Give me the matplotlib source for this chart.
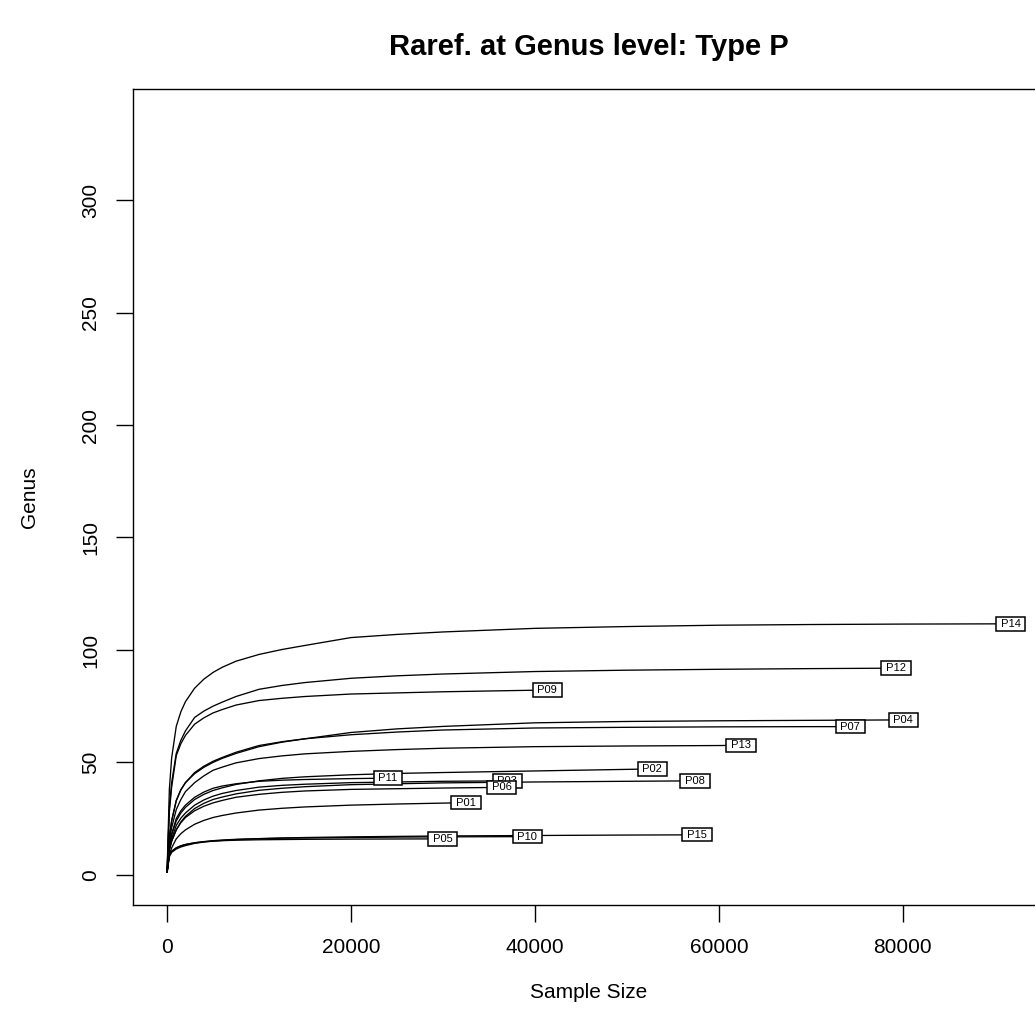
import matplotlib
matplotlib.use("Agg")
import matplotlib.pyplot as plt

plt.rcParams['font.family'] = ['Liberation Sans', 'DejaVu Sans']

# ---- data ----
title = "Raref. at Genus level: Type P"
x_label = "Sample Size"
y_label = "Genus"
x_ticks = [0, 20000, 40000, 60000, 80000]
y_ticks = [0, 50, 100, 150, 200, 250, 300]

# common sample-size grid; each curve lists richness at grid points below its end
grid_n = [1, 250, 500, 1000, 1500, 2000, 3000, 4000, 5000, 6000, 7500, 10000,
          12500, 15000, 20000, 25000, 30000, 40000, 50000, 60000, 70000, 80000, 90000]

samples = ["P01", "P02", "P03", "P04", "P05", "P06", "P07", "P08",
           "P09", "P10", "P11", "P12", "P13", "P14", "P15"]
end_n = [32500, 52780, 36990, 80070, 29960, 36370, 74300, 57420,
         41340, 39160, 24020, 79240, 62420, 91740, 57610]
end_s = [32.1, 47.1, 41.8, 68.9, 16.0, 38.9, 65.9, 41.8,
         82.2, 17.0, 43.0, 91.9, 57.6, 111.6, 17.8]

P01 = [1, 9, 12, 16, 18.3, 20, 22.5, 24.2, 25.5, 26.4, 27.5, 28.8, 29.6, 30.2, 31, 31.5, 31.9]
P02 = [1, 13, 18, 24, 27.5, 30, 33.5, 35.8, 37.5, 38.7, 40.2, 41.8, 42.9, 43.6, 44.5, 45.1,
       45.5, 46.2, 46.9]
P03 = [1, 12, 16, 22, 25.2, 27.5, 31, 33.3, 35, 36.2, 37.5, 39, 39.8, 40.3, 41, 41.3, 41.6]
P04 = [1, 17, 24, 33, 37.8, 41, 45, 47.8, 50, 51.8, 54, 57, 59, 60.5, 63.3, 64.9, 66, 67.6,
       68.2, 68.5, 68.7, 68.9]
P05 = [1, 9, 10.5, 12, 12.9, 13.5, 14.2, 14.7, 15, 15.2, 15.4, 15.6, 15.7, 15.8, 15.9, 15.95]
P06 = [1, 11, 15, 20, 23.2, 25.5, 28.5, 30.5, 32, 33.1, 34.5, 35.8, 36.7, 37.3, 38, 38.3, 38.6]
P07 = [1, 17, 24, 33, 37.8, 41, 45.5, 48.3, 50.5, 52.2, 54.5, 57.5, 59.2, 60.5, 62.3, 63.5,
       64.4, 65.3, 65.6, 65.8, 65.9]
P08 = [1, 11, 15, 20, 23.5, 26, 29.5, 31.8, 33.5, 34.6, 36, 37.6, 38.5, 39.2, 40.1, 40.5,
       40.9, 41.3, 41.6]
P09 = [1, 28, 39, 53, 58.3, 62, 67, 69.8, 72, 73.5, 75.5, 77.5, 78.5, 79.3, 80.4, 80.9,
       81.4, 82.1]
P10 = [1, 9, 10.5, 12, 12.9, 13.5, 14.3, 14.8, 15.2, 15.5, 15.8, 16.1, 16.3, 16.4, 16.6,
       16.8, 16.9]
P11 = [1, 13, 18, 25, 28.5, 31, 34.5, 36.8, 38.5, 39.5, 40.5, 41.6, 42.1, 42.4, 42.8]
P12 = [1, 30, 41, 54, 59.8, 64, 70, 72.8, 75, 76.8, 79.3, 82.5, 84.2, 85.5, 87.4, 88.5,
       89.3, 90.4, 91, 91.4, 91.7]
P13 = [1, 15, 21, 29, 33.5, 37, 41, 44, 46.5, 47.9, 49.8, 51.7, 52.9, 53.8, 54.9, 55.7,
       56.3, 57, 57.3, 57.5]
P14 = [1, 38, 52, 66, 72.5, 77, 83, 87, 90, 92.3, 95, 98, 100.2, 102, 105.5, 106.9, 108,
       109.6, 110.4, 111, 111.3, 111.5, 111.6]
P15 = [1, 8, 10, 11.5, 12.4, 13, 14, 14.6, 15, 15.3, 15.7, 16.1, 16.4, 16.6, 16.9, 17.1,
       17.3, 17.5, 17.7]

curves = [P01, P02, P03, P04, P05, P06, P07, P08, P09, P10, P11, P12, P13, P14, P15]

# ---- figure ----
W = H = 1035
fig = plt.figure(figsize=(W / 100, H / 100), dpi=100)
left, right, top, bottom = 133.3, 1044.5, 89, 905
ax = fig.add_axes([left / W, 1 - bottom / H, (right - left) / W, (bottom - top) / H])

for name, vals, n_end, s_end in zip(samples, curves, end_n, end_s):
    xs = grid_n[:len(vals)] + [n_end]
    ys = vals + [s_end]
    ax.plot(xs, ys, color='black', lw=0.95, solid_capstyle='butt', solid_joinstyle='round')

for name, n_end, s_end in zip(samples, end_n, end_s):
    ax.text(n_end, s_end, " " + name + " ", ha='center', va='center', fontsize=8,
            zorder=5,
            bbox=dict(boxstyle='square,pad=0.15', fc='white', ec='black', lw=1.1))

ax.set_xlim(-3670, 95410)
ax.set_ylim(-13.4, 349.4)
ax.set_xticks(x_ticks)
ax.set_yticks(y_ticks)
ax.set_xticklabels([str(t) for t in x_ticks])
ax.set_yticklabels([str(t) for t in y_ticks])
ax.tick_params(axis='both', direction='out', length=12, width=1.0, labelsize=15, pad=12)
ax.tick_params(axis='y', labelrotation=90)
for lab in ax.get_yticklabels():
    lab.set_va('center')
for sp in ax.spines.values():
    sp.set_linewidth(1.0)

cx = (left + right) / 2 / W
fig.text(cx, 1 - 47 / H, title, ha='center', va='center', fontsize=21, fontweight='bold')
fig.text(cx, 1 - 992 / H, x_label, ha='center', va='center', fontsize=15)
fig.text(30 / W, 1 - 497 / H, y_label, ha='center', va='center', fontsize=15, rotation=90)

fig.savefig("out.png", dpi=100)
